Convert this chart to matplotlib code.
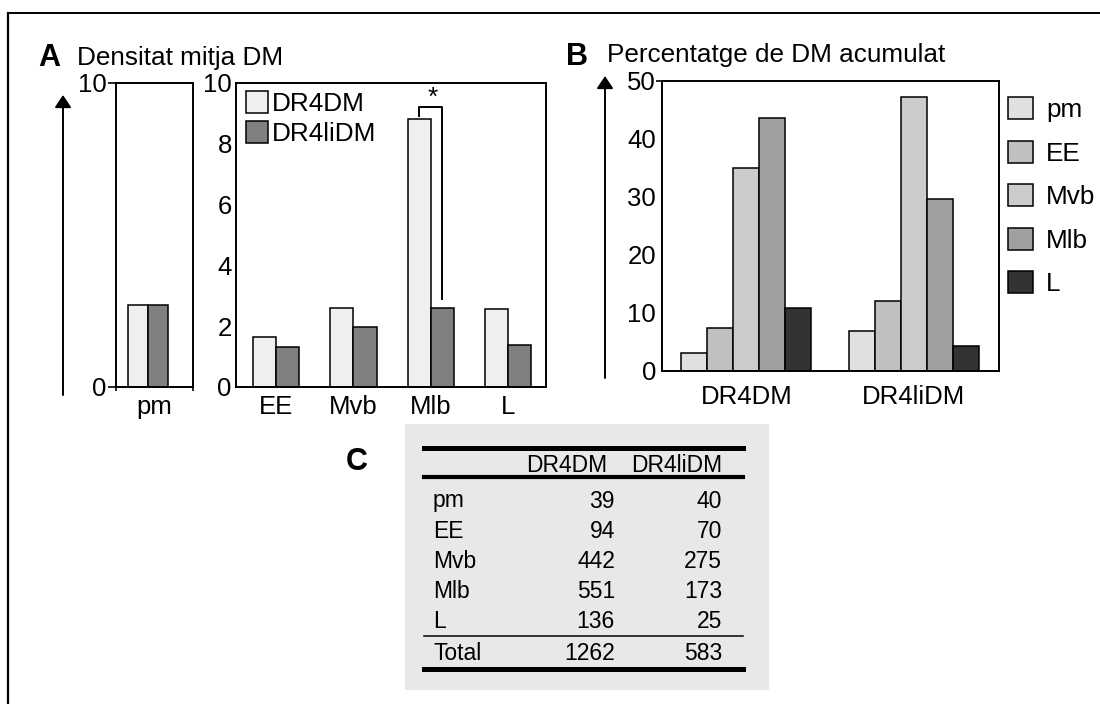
import matplotlib
matplotlib.use('Agg')
import matplotlib.pyplot as plt
import numpy as np
from matplotlib.patches import Rectangle, FancyArrowPatch
from matplotlib.lines import Line2D

plt.rcParams['font.family'] = ['Liberation Sans', 'DejaVu Sans']

# panel A: mean density
pm_series = ['DR4DM', 'DR4liDM']
pm_density = [2.7, 2.7]
groups_a = ['EE', 'Mvb', 'Mlb', 'L']
dens_dr4dm = [1.64, 2.6, 8.82, 2.57]
dens_dr4lidm = [1.32, 1.97, 2.6, 1.38]

# panel B: accumulated percentage
compartments = ['pm', 'EE', 'Mvb', 'Mlb', 'L']
samples = ['DR4DM', 'DR4liDM']
pct_dr4dm = [3.1, 7.4, 35.0, 43.7, 10.8]
pct_dr4lidm = [6.9, 12.0, 47.2, 29.7, 4.3]
comp_colors = ['#e0e0e0', '#c0c0c0', '#cccccc', '#a0a0a0', '#333333']

# panel C: counts table
table_rows = ['pm', 'EE', 'Mvb', 'Mlb', 'L']
counts_dr4dm = [39, 94, 442, 551, 136]
counts_dr4lidm = [40, 70, 275, 173, 25]
totals = [1262, 583]

W, H = 1100, 704
fig = plt.figure(figsize=(W / 100, H / 100), dpi=100)


def fx(x):
    return x / W


def fy(y):
    return 1 - y / H


def px_axes(x0, y0, x1, y1):
    return fig.add_axes([fx(x0), fy(y1), fx(x1 - x0), (y1 - y0) / H])


c_light, c_dark = '#efefef', '#808080'
lw_sp = 1.4
FS = 18.8   # titles / legends
TS = 18.5   # tick labels

# outer frame (left and top only visible)
fig.add_artist(Line2D([fx(8), fx(8)], [fy(13), 0], color='black', lw=1.6, transform=fig.transFigure))
fig.add_artist(Line2D([fx(8), 1], [fy(13), fy(13)], color='black', lw=1.4, transform=fig.transFigure))

# ---- A, small pm axes
ax0 = px_axes(116, 83, 193, 387)
shift = -0.084
ax0.bar([shift - 0.13, shift + 0.13], pm_density, width=0.26,
        color=[c_light, c_dark], edgecolor='black', linewidth=1.1)
ax0.set_xlim(-0.5, 0.5)
ax0.set_ylim(0, 10)
ax0.set_yticks([0, 10])
ax0.set_xticks([0])
ax0.set_xticklabels(['pm'])
ax0.set_xticks([-0.5, 0.5], minor=True)
ax0.tick_params(axis='y', length=6, width=1.2, pad=1, labelsize=TS)
ax0.tick_params(axis='x', which='major', length=0, pad=6, labelsize=TS)
ax0.tick_params(axis='x', which='minor', length=3, width=1.2)
for s in ax0.spines.values():
    s.set_linewidth(lw_sp)

# ---- A, main axes
ax1 = px_axes(236, 83, 546, 387)
xa = np.arange(len(groups_a))
bw = 0.3
ax1.bar(xa - bw / 2, dens_dr4dm, width=bw, color=c_light, edgecolor='black', linewidth=1.1, label='DR4DM')
ax1.bar(xa + bw / 2, dens_dr4lidm, width=bw, color=c_dark, edgecolor='black', linewidth=1.1, label='DR4liDM')
ax1.set_xlim(-0.517, 3.49)
ax1.set_ylim(0, 10)
ax1.set_yticks(range(0, 11, 2))
ax1.set_xticks(xa)
ax1.set_xticklabels(groups_a)
ax1.tick_params(axis='y', length=0, pad=3, labelsize=TS)
ax1.tick_params(axis='x', length=0, pad=6, labelsize=TS)
for s in ax1.spines.values():
    s.set_linewidth(lw_sp)
ax1.legend(loc='upper left', bbox_to_anchor=(10 / 310, 1 - 8 / 304), frameon=False,
           fontsize=FS, borderpad=0, borderaxespad=0, handlelength=0.84, handleheight=0.92,
           handletextpad=0.15, labelspacing=0.18)

# significance bracket on Mlb
i = groups_a.index('Mlb')
xl, xr = i - bw / 2, i + bw / 2
ytop = max(dens_dr4dm[i], dens_dr4lidm[i]) + 0.39
ax1.plot([xl, xl, xr, xr], [dens_dr4dm[i] + 0.09, ytop, ytop, dens_dr4lidm[i] + 0.29],
         color='black', lw=1.4)
ax1.text(i + 0.02, ytop - 0.1, '*', ha='center', va='bottom', fontsize=FS)

# ---- B
ax2 = px_axes(662, 81, 999, 371)
xb = np.arange(len(samples))
bwb = 0.155
for k, comp in enumerate(compartments):
    ax2.bar(xb + (k - 2) * bwb, [pct_dr4dm[k], pct_dr4lidm[k]], width=bwb,
            color=comp_colors[k], edgecolor='black', linewidth=1.1, label=comp)
ax2.set_xlim(-0.503, 1.507)
ax2.set_ylim(0, 50)
ax2.set_yticks(range(0, 51, 10))
ax2.set_xticks(xb)
ax2.set_xticklabels(samples)
ax2.tick_params(axis='y', length=4.3, width=1.2, pad=0, labelsize=TS)
ax2.tick_params(axis='x', length=0, pad=10, labelsize=TS)
for t in ax2.yaxis.get_major_ticks()[:-1]:
    t.tick1line.set_visible(False)
for s in ax2.spines.values():
    s.set_linewidth(lw_sp)
ax2.legend(loc='upper left', bbox_to_anchor=(fx(1008), fy(97)), bbox_transform=fig.transFigure,
           frameon=False, fontsize=FS, borderpad=0, borderaxespad=0, handlelength=0.96,
           handleheight=0.92, handletextpad=0.5, labelspacing=0.71)

# vertical arrows
for xa_, yb, yt in [(63, 395, 95), (605, 378, 76)]:
    fig.add_artist(FancyArrowPatch((fx(xa_), fy(yb)), (fx(xa_), fy(yt)), transform=fig.transFigure,
                                   arrowstyle='-|>,head_length=0.75,head_width=0.5', mutation_scale=10,
                                   shrinkA=0, shrinkB=0, color='black', lw=1.4))

# panel titles
fig.text(fx(38), fy(58), 'A', fontsize=22, fontweight='bold', va='center', ha='left')
fig.text(fx(77), fy(58), 'Densitat mitja DM', fontsize=FS, va='center', ha='left')
fig.text(fx(566), fy(57), 'B', fontsize=22, fontweight='bold', va='center', ha='left')
fig.text(fx(607), fy(55), 'Percentatge de DM acumulat', fontsize=FS, va='center', ha='left')
fig.text(fx(346), fy(462), 'C', fontsize=22, fontweight='bold', va='center', ha='left')

# ---- C table
fig.add_artist(Rectangle((fx(405), fy(690)), fx(769 - 405), (690 - 424) / H,
                         transform=fig.transFigure, facecolor='#e8e8e8', edgecolor='none', zorder=0))
TF = 16.5
tx0, tx1 = fx(424), fx(743)
for yy, lw in [(448, 3.6), (477, 3.0), (636, 1.1), (669, 3.6)]:
    fig.add_artist(Line2D([tx0, tx1], [fy(yy), fy(yy)], color='black', lw=lw, transform=fig.transFigure))
fig.text(fx(607), fy(466), samples[0], fontsize=TF, ha='right', va='center')
fig.text(fx(722), fy(466), samples[1], fontsize=TF, ha='right', va='center')
row_y = [501, 531, 561, 592, 622]
for r, name in enumerate(table_rows):
    fig.text(fx(433), fy(row_y[r]), name, fontsize=TF, ha='left', va='center')
    fig.text(fx(615), fy(row_y[r]), str(counts_dr4dm[r]), fontsize=TF, ha='right', va='center')
    fig.text(fx(722), fy(row_y[r]), str(counts_dr4lidm[r]), fontsize=TF, ha='right', va='center')
fig.text(fx(433), fy(653), 'Total', fontsize=TF, ha='left', va='center')
fig.text(fx(615), fy(653), str(totals[0]), fontsize=TF, ha='right', va='center')
fig.text(fx(722), fy(653), str(totals[1]), fontsize=TF, ha='right', va='center')

fig.savefig('out.png', dpi=100)
